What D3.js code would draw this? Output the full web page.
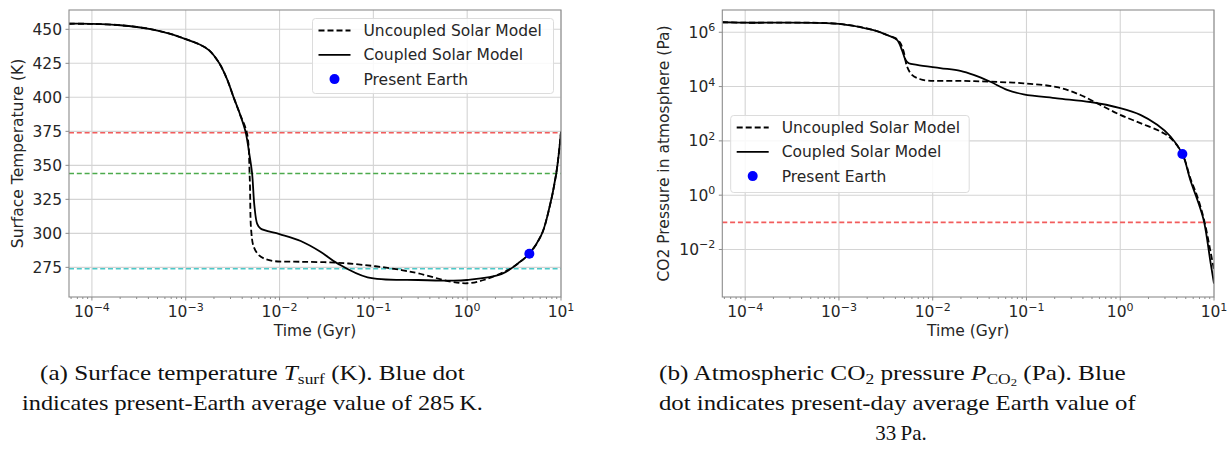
<!DOCTYPE html>
<html>
<head>
<meta charset="utf-8">
<script src="https://cdn.jsdelivr.net/npm/d3@7/dist/d3.min.js"></script>
<style>
  html, body { margin: 0; padding: 0; background: #fff; }
  svg { display: block; }
  text { font-family: "DejaVu Sans", sans-serif; fill: #262626; }
  text.cap { font-family: "Liberation Serif", "DejaVu Serif", serif; fill: #111; }
</style>
</head>
<body>
<svg id="fig" width="1232" height="449"></svg>
<script>
// ---- Time axis (Gyr) and tick values ----
const timeDomain = [5.7e-5, 10];
const timeTicks = [1e-4, 1e-3, 1e-2, 1e-1, 1, 10];
const tempDomain = [253.2, 464.2];
const tempTicks = [275, 300, 325, 350, 375, 400, 425, 450];
const pressureDomain = [1.78e-4, 6.6e6];
const pressureTicks = [1e-2, 1, 1e2, 1e4, 1e6];

// ---- Surface temperature (K) ----
const coupledTempTime = [5.7e-5, 1e-4, 2e-4, 4.2e-4, 7e-4, 1e-3, 1.41e-3, 1.78e-3, 2.28e-3, 2.75e-3, 3.24e-3,
  3.8e-3, 4.33e-3, 4.8e-3, 5.1e-3, 5.4e-3, 5.78e-3, 6.27e-3, 0.01, 0.0168, 0.0273, 0.0414, 0.0867, 0.3, 0.675,
  1, 2.31, 3.48, 4.6, 6.18, 7.28, 8.9, 10];
const coupledTemp = [454.1, 454.0, 453.0, 450.2, 446.5, 442.8, 438.8, 434.5, 425, 413.5, 400,
  387.3, 375, 357, 344, 320, 307, 303.5, 299.5, 294.4, 286.5, 277.9, 267.6, 265.7, 265.2,
  265.7, 270, 277.9, 285, 298.8, 314.7, 344, 374.6];

const uncoupledTempTime = [5.7e-5, 1e-4, 2e-4, 4.2e-4, 7e-4, 1e-3, 1.41e-3, 1.78e-3, 2.28e-3, 2.75e-3, 3.24e-3,
  3.8e-3, 4.5e-3, 4.81e-3, 4.98e-3, 5.31e-3, 6.01e-3, 6.8e-3, 8.7e-3, 0.0168, 0.0414, 0.1, 0.2, 0.3, 0.675, 1,
  1.5, 2.72, 3.48, 4.6, 6.18, 7.28, 8.9, 10];
const uncoupledTemp = [454.1, 454.0, 453.0, 450.2, 446.5, 442.8, 438.8, 434.5, 425, 413.5, 400,
  387.3, 373.5, 341, 302.5, 290, 284, 281.6, 279.6, 279.1, 278.4, 276, 273, 270.6, 264.5, 263.3,
  265.7, 273, 277.9, 285, 298.8, 314.7, 344, 374.6];

// Reference temperature levels (K)
const tempLevels = [374, 344, 274];
const tempLevelColors = ["#f25c5c", "#4caa4c", "#4cc9c9"];

// ---- Atmospheric CO2 pressure (Pa) ----
const coupledCO2Time = [5.7e-5, 1e-4, 1e-3, 2.34e-3, 3.25e-3, 4.16e-3, 4.7e-3, 5.13e-3, 5.56e-3, 6.8e-3,
  0.012, 0.0197, 0.0273, 0.0412, 0.0621, 0.0933, 0.212, 0.481, 1, 1.64, 2.48, 3.44, 4.6, 5.62, 6.64, 7.81,
  9.2, 10];
const coupledCO2 = [2.34e6, 2.25e6, 2.04e6, 1.2e6, 7.9e5, 5.2e5, 2.2e5, 9.5e4, 7.2e4, 6.3e4,
  4.8e4, 3.8e4, 2.7e4, 1.5e4, 7.6e3, 5.2e3, 3.7e3, 2.7e3, 1.6e3, 910, 390, 145, 33, 3.4, 0.68, 0.11,
  0.0032, 5.6e-4];

const uncoupledCO2Time = [5.7e-5, 1e-4, 1e-3, 2.34e-3, 3.25e-3, 4.16e-3, 4.51e-3, 4.89e-3, 5.32e-3, 6.01e-3,
  7.38e-3, 8.97e-3, 0.0197, 0.0412, 0.0933, 0.212, 0.376, 0.615, 1, 1.64, 2.69, 3.44, 4.6, 5.62, 6.64, 7.9,
  9.2, 10];
const uncoupledCO2 = [2.34e6, 2.25e6, 2.04e6, 1.2e6, 7.9e5, 5.6e5, 4.0e5, 2.0e5, 5.5e4, 2.7e4,
  1.86e4, 1.66e4, 1.62e4, 1.51e4, 1.32e4, 9.5e3, 4.9e3, 2.1e3, 910, 450, 220, 126, 33, 4.0, 0.89, 0.11,
  0.008, 0.0018];

// Reference pressure level (Pa)
const co2Levels = [0.1];
const co2LevelColors = ["#f25c5c"];

// Present-day Earth
const presentTime = 4.6;
const presentTemp = 285;
const presentCO2 = 33;

const seriesNames = ["Uncoupled Solar Model", "Coupled Solar Model", "Present Earth"];

const svg = d3.select("#fig");
const FS = 15.5;

function zip(xs, ys) { return xs.map((x, i) => ({ t: x, v: ys[i] })); }

function drawPanel(cfg) {
  const { left, right, top, bottom } = cfg;
  const g = svg.append("g");
  const x = d3.scaleLog().domain(timeDomain).range([left, right]);
  const y = cfg.ylog
    ? d3.scaleLog().domain(cfg.yDomain).range([bottom, top])
    : d3.scaleLinear().domain(cfg.yDomain).range([bottom, top]);

  // grid
  const grid = g.append("g").attr("stroke", "#d4d4d4").attr("stroke-width", 1.1);
  timeTicks.forEach(t => grid.append("line")
    .attr("x1", x(t)).attr("x2", x(t)).attr("y1", top).attr("y2", bottom));
  cfg.yTicks.forEach(v => grid.append("line")
    .attr("x1", left).attr("x2", right).attr("y1", y(v)).attr("y2", y(v)));

  // reference levels
  cfg.levels.forEach((v, i) => g.append("line")
    .attr("x1", left).attr("x2", right).attr("y1", y(v)).attr("y2", y(v))
    .attr("stroke", cfg.levelColors[i]).attr("stroke-width", 1.6)
    .attr("stroke-dasharray", "5,2.8"));

  // curves
  const line = d3.line().x(d => x(d.t)).y(d => y(d.v)).curve(d3.curveCatmullRom.alpha(0.5));
  const clip = "clip" + cfg.id;
  svg.append("clipPath").attr("id", clip).append("rect")
    .attr("x", left).attr("y", top).attr("width", right - left).attr("height", bottom - top);
  const lg = g.append("g").attr("clip-path", `url(#${clip})`);
  lg.append("path").datum(zip(cfg.cT, cfg.cV)).attr("d", line)
    .attr("fill", "none").attr("stroke", "#000").attr("stroke-width", 1.8);
  lg.append("path").datum(zip(cfg.uT, cfg.uV)).attr("d", line)
    .attr("fill", "none").attr("stroke", "#000").attr("stroke-width", 1.8)
    .attr("stroke-dasharray", "6,3");
  g.append("circle").attr("cx", x(presentTime)).attr("cy", y(cfg.present)).attr("r", 5)
    .attr("fill", "#0000ff");

  // spines
  g.append("rect").attr("x", left).attr("y", top).attr("width", right - left).attr("height", bottom - top)
    .attr("fill", "none").attr("stroke", "#8c8c8c").attr("stroke-width", 1.1);

  // x ticks (major + minor) and y ticks
  const tk = g.append("g").attr("stroke", "#8c8c8c").attr("stroke-width", 1);
  timeTicks.forEach(t => tk.append("line").attr("x1", x(t)).attr("x2", x(t))
    .attr("y1", bottom).attr("y2", bottom + 3.5));
  x.ticks().forEach(t => {
    const e = Math.round(Math.log10(t));
    if (Math.abs(Math.log10(t) - e) < 1e-9) return;
    if (t < timeDomain[0] || t > timeDomain[1]) return;
    tk.append("line").attr("x1", x(t)).attr("x2", x(t)).attr("y1", bottom).attr("y2", bottom + 2);
  });
  cfg.yTicks.forEach(v => tk.append("line").attr("x1", left - 3.5).attr("x2", left)
    .attr("y1", y(v)).attr("y2", y(v)));

  // x tick labels
  timeTicks.forEach(t => {
    const e = Math.round(Math.log10(t));
    const tx = g.append("text").attr("x", x(t)).attr("y", bottom + 20).attr("text-anchor", "middle")
      .attr("font-size", FS);
    tx.append("tspan").text("10");
    tx.append("tspan").attr("dy", -6.5).attr("font-size", 11).text(String(e).replace("-", "\u2212"));
  });

  // y tick labels
  cfg.yTicks.forEach(v => {
    const ty = g.append("text").attr("x", left - 7).attr("y", y(v) + 5.5).attr("text-anchor", "end")
      .attr("font-size", FS);
    if (cfg.ylog) {
      const e = Math.round(Math.log10(v));
      ty.append("tspan").text("10");
      ty.append("tspan").attr("dy", -6.5).attr("font-size", 11).text(String(e).replace("-", "\u2212"));
    } else {
      ty.text(v);
    }
  });

  // axis labels
  g.append("text").attr("x", (left + right) / 2).attr("y", bottom + 39).attr("text-anchor", "middle")
    .attr("font-size", FS).text("Time (Gyr)");
  g.append("text").attr("transform", `translate(${cfg.ylabelX},${(top + bottom) / 2}) rotate(-90)`)
    .attr("text-anchor", "middle").attr("font-size", FS).text(cfg.ylabel);

  // legend
  const L = cfg.legend;
  const lgd = g.append("g");
  lgd.append("rect").attr("x", L.x).attr("y", L.y).attr("width", L.w).attr("height", L.h)
    .attr("rx", 3).attr("fill", "#fff").attr("fill-opacity", 0.85)
    .attr("stroke", "#dcdcdc").attr("stroke-width", 1);
  const rowY = i => L.y + 12 + i * 24.3;
  const hx0 = L.x + 6, hx1 = L.x + 38, tx = L.x + 51;
  lgd.append("line").attr("x1", hx0).attr("x2", hx1).attr("y1", rowY(0)).attr("y2", rowY(0))
    .attr("stroke", "#000").attr("stroke-width", 1.8).attr("stroke-dasharray", "6,3");
  lgd.append("line").attr("x1", hx0).attr("x2", hx1).attr("y1", rowY(1)).attr("y2", rowY(1))
    .attr("stroke", "#000").attr("stroke-width", 1.8);
  lgd.append("circle").attr("cx", (hx0 + hx1) / 2).attr("cy", rowY(2)).attr("r", 5).attr("fill", "#0000ff");
  seriesNames.forEach((s, i) => lgd.append("text").attr("x", tx).attr("y", rowY(i) + 5.5)
    .attr("font-size", FS).text(s));
}

drawPanel({
  id: "a", left: 69, right: 561, top: 10, bottom: 297,
  yDomain: tempDomain, yTicks: tempTicks, ylog: false,
  levels: tempLevels, levelColors: tempLevelColors,
  cT: coupledTempTime, cV: coupledTemp, uT: uncoupledTempTime, uV: uncoupledTemp,
  present: presentTemp,
  ylabel: "Surface Temperature (K)", ylabelX: 23,
  legend: { x: 312.5, y: 18.5, w: 241, h: 75 }
});

drawPanel({
  id: "b", left: 722.3, right: 1214, top: 10, bottom: 297,
  yDomain: pressureDomain, yTicks: pressureTicks, ylog: true,
  levels: co2Levels, levelColors: co2LevelColors,
  cT: coupledCO2Time, cV: coupledCO2, uT: uncoupledCO2Time, uV: uncoupledCO2,
  present: presentCO2,
  ylabel: "CO2 Pressure in atmosphere (Pa)", ylabelX: 669,
  legend: { x: 730.7, y: 115.5, w: 238.5, h: 77 }
});

// ---- captions ----
function caption(left, width, baseline, build) {
  const t = svg.append("text").attr("class", "cap").attr("font-size", 21).attr("x", 0).attr("y", 0);
  build(t);
  if (width) {
    const w = t.node().getComputedTextLength();
    t.attr("transform", `translate(${left},${baseline}) scale(${width / w},1)`);
  } else {
    t.attr("text-anchor", "middle").attr("transform", `translate(${left},${baseline})`);
  }
}
function sub(t, txt, size, dy) {
  t.append("tspan").attr("font-size", size).attr("dy", dy).text(txt);
}

caption(40, 425, 379.5, t => {
  t.append("tspan").text("(a) Surface temperature ");
  t.append("tspan").attr("font-style", "italic").text("T");
  sub(t, "surf", 14.5, 4);
  t.append("tspan").attr("dy", -4).text(" (K). Blue dot");
});
caption(22, 461, 410, t => {
  t.append("tspan").text("indicates present-Earth average value of 285\u2009K.");
});

caption(659, 467, 379.5, t => {
  t.append("tspan").text("(b) Atmospheric CO");
  sub(t, "2", 14.5, 4);
  t.append("tspan").attr("dy", -4).text(" pressure ");
  t.append("tspan").attr("font-style", "italic").text("P");
  sub(t, "CO", 14.5, 4);
  sub(t, "2", 10.5, 2.5);
  t.append("tspan").attr("dy", -6.5).text(" (Pa). Blue");
});
caption(659, 477, 410, t => {
  t.append("tspan").text("dot indicates present-day average Earth value of");
});
caption(901, 0, 440, t => {
  t.append("tspan").text("33\u2009Pa.");
});
</script>
</body>
</html>
